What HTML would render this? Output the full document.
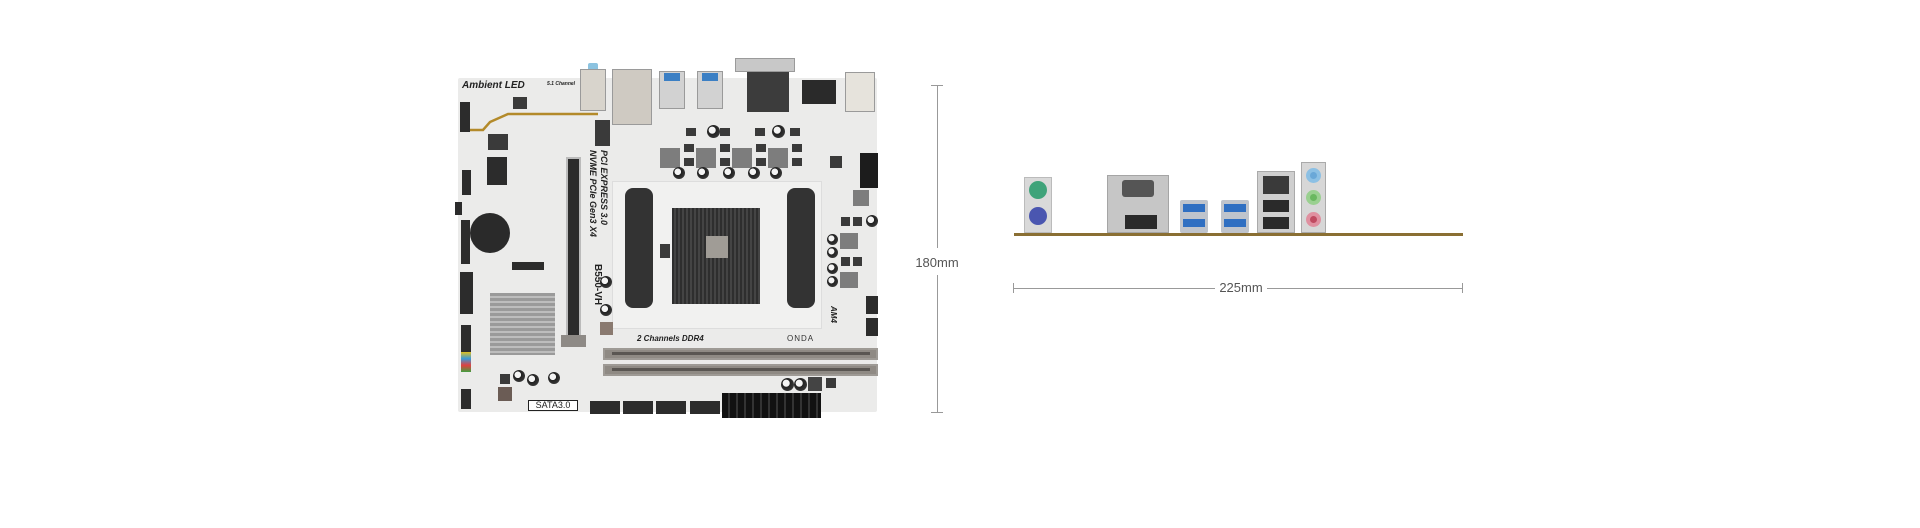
<!DOCTYPE html>
<html><head><meta charset="utf-8"><style>
*{margin:0;padding:0;box-sizing:border-box}
body{width:1920px;height:528px;background:#fff;position:relative;overflow:hidden;font-family:"Liberation Sans",sans-serif}
div{position:absolute}
.d{background:#2c2c2c}
.g{background:#7d7d7d}
.m{background:#c9c9c9;border:1px solid #9a9a9a}
.t{font-weight:bold;font-style:italic;color:#222;white-space:nowrap}
.cap{border-radius:50%;background:radial-gradient(circle at 40% 40%,#f4f4f4 30%,#222 34%,#444 100%)}
.chip{background:#3a3a3a}
</style></head><body>
<!-- board -->
<div style="left:458px;top:78px;width:419px;height:334px;background:#ebebea;border-radius:2px"></div>
<!-- gold trace -->
<svg style="position:absolute;left:458px;top:100px" width="140" height="40"><polyline points="2,30 25,30 32,22 50,14 140,14" stroke="#b38a2a" stroke-width="2.5" fill="none"/></svg>
<div class="t" style="left:462px;top:80px;font-size:10px">Ambient LED</div>
<div class="t" style="left:547px;top:81px;font-size:5px">5.1 Channel</div>
<!-- rear io -->
<div style="left:588px;top:63px;width:10px;height:10px;background:#8cc3e0;border-radius:2px"></div>
<div class="m" style="left:580px;top:69px;width:26px;height:42px;background:#d8d4cc"></div>
<div class="m" style="left:612px;top:69px;width:40px;height:56px;background:#cfcac2"></div>
<div class="m" style="left:659px;top:71px;width:26px;height:38px;background:#d2d2d2"></div>
<div style="left:664px;top:73px;width:16px;height:8px;background:#3b7fc4"></div>
<div class="m" style="left:697px;top:71px;width:26px;height:38px;background:#d2d2d2"></div>
<div style="left:702px;top:73px;width:16px;height:8px;background:#3b7fc4"></div>
<div class="m" style="left:735px;top:58px;width:60px;height:14px;background:#c8c8c8"></div>
<div class="chip" style="left:747px;top:72px;width:42px;height:40px;background:#3c3c3c"></div>
<div class="chip" style="left:802px;top:80px;width:34px;height:24px;background:#2a2a2a"></div>
<div class="m" style="left:845px;top:72px;width:30px;height:40px;background:#e6e3dc"></div>
<!-- left headers -->
<div class="d" style="left:460px;top:102px;width:10px;height:30px"></div>
<div class="d" style="left:462px;top:170px;width:9px;height:25px"></div>
<div class="d" style="left:455px;top:202px;width:7px;height:13px"></div>
<div class="d" style="left:461px;top:220px;width:9px;height:22px"></div>
<div class="d" style="left:461px;top:242px;width:9px;height:22px"></div>
<div class="d" style="left:460px;top:272px;width:13px;height:42px"></div>
<div class="d" style="left:461px;top:325px;width:10px;height:28px"></div>
<div style="left:461px;top:352px;width:10px;height:20px;background:linear-gradient(#e0c020,#3a9ad8,#e04040,#40a040)"></div>
<div class="d" style="left:461px;top:389px;width:10px;height:20px"></div>
<!-- M.2 slot, etc -->
<div class="d" style="left:487px;top:157px;width:20px;height:28px"></div>
<div style="left:470px;top:213px;width:40px;height:40px;border-radius:50%;background:#2a2a2a"></div>
<div class="d" style="left:512px;top:262px;width:32px;height:8px"></div>
<div class="chip" style="left:488px;top:134px;width:20px;height:16px"></div>
<div class="chip" style="left:513px;top:97px;width:14px;height:12px"></div>
<div class="chip" style="left:595px;top:120px;width:15px;height:26px"></div>
<!-- heatsink -->
<div style="left:490px;top:293px;width:65px;height:62px;background:repeating-linear-gradient(#9a9a9a 0 3px,#bdbdbd 3px 5px)"></div>
<!-- PCIe x16 -->
<div class="d" style="left:566px;top:157px;width:15px;height:190px;border:2px solid #bbb"></div>
<div class="g" style="left:561px;top:335px;width:25px;height:12px;background:#8e8a86"></div>
<!-- vertical texts -->
<div class="t" style="left:598px;top:150px;font-size:9px;transform-origin:0 0;transform:rotate(90deg)">NVME PCIe Gen3 X4</div>
<div class="t" style="left:609px;top:150px;font-size:9px;transform-origin:0 0;transform:rotate(90deg)">PCI EXPRESS 3.0</div>
<div style="left:603px;top:264px;font-size:10px;color:#222;font-weight:bold;transform-origin:0 0;transform:rotate(90deg);white-space:nowrap">B550-VH</div>
<div class="t" style="left:838px;top:306px;font-size:8px;transform-origin:0 0;transform:rotate(90deg)">AM4</div>
<!-- VRM -->
<div class="g" style="left:660px;top:148px;width:20px;height:20px"></div>
<div class="g" style="left:696px;top:148px;width:20px;height:20px"></div>
<div class="g" style="left:732px;top:148px;width:20px;height:20px"></div>
<div class="g" style="left:768px;top:148px;width:20px;height:20px"></div>
<div class="chip" style="left:684px;top:144px;width:10px;height:8px"></div><div class="chip" style="left:684px;top:158px;width:10px;height:8px"></div>
<div class="chip" style="left:720px;top:144px;width:10px;height:8px"></div><div class="chip" style="left:720px;top:158px;width:10px;height:8px"></div>
<div class="chip" style="left:756px;top:144px;width:10px;height:8px"></div><div class="chip" style="left:756px;top:158px;width:10px;height:8px"></div>
<div class="chip" style="left:792px;top:144px;width:10px;height:8px"></div><div class="chip" style="left:792px;top:158px;width:10px;height:8px"></div>
<div class="chip" style="left:686px;top:128px;width:10px;height:8px"></div><div class="chip" style="left:720px;top:128px;width:10px;height:8px"></div><div class="chip" style="left:755px;top:128px;width:10px;height:8px"></div><div class="chip" style="left:790px;top:128px;width:10px;height:8px"></div>
<div class="cap" style="left:707px;top:125px;width:13px;height:13px"></div>
<div class="cap" style="left:772px;top:125px;width:13px;height:13px"></div>
<div class="cap" style="left:673px;top:167px;width:12px;height:12px"></div>
<div class="cap" style="left:697px;top:167px;width:12px;height:12px"></div>
<div class="cap" style="left:723px;top:167px;width:12px;height:12px"></div>
<div class="cap" style="left:748px;top:167px;width:12px;height:12px"></div>
<div class="cap" style="left:770px;top:167px;width:12px;height:12px"></div>
<div class="chip" style="left:830px;top:156px;width:12px;height:12px"></div>
<!-- 8 pin -->
<div class="d" style="left:860px;top:153px;width:18px;height:35px;background:#1c1c1c"></div>
<div class="g" style="left:853px;top:190px;width:16px;height:16px"></div>
<!-- socket area -->
<div style="left:612px;top:181px;width:210px;height:148px;border:1px solid #ddd;background:#f1f1f0"></div>
<div style="left:625px;top:188px;width:28px;height:120px;background:#333;border-radius:8px"></div>
<div style="left:787px;top:188px;width:28px;height:120px;background:#333;border-radius:8px"></div>
<div style="left:672px;top:208px;width:88px;height:96px;background:repeating-linear-gradient(90deg,#2e2e2e 0 2px,#444 2px 4px)"></div>
<div style="left:706px;top:236px;width:22px;height:22px;background:#a09c96"></div>
<div class="chip" style="left:660px;top:244px;width:10px;height:14px"></div>
<!-- right side -->
<div class="g" style="left:840px;top:233px;width:18px;height:16px"></div>
<div class="g" style="left:840px;top:272px;width:18px;height:16px"></div>
<div class="chip" style="left:841px;top:217px;width:9px;height:9px"></div><div class="chip" style="left:853px;top:217px;width:9px;height:9px"></div>
<div class="chip" style="left:841px;top:257px;width:9px;height:9px"></div><div class="chip" style="left:853px;top:257px;width:9px;height:9px"></div>
<div class="cap" style="left:827px;top:234px;width:11px;height:11px"></div><div class="cap" style="left:827px;top:247px;width:11px;height:11px"></div>
<div class="cap" style="left:827px;top:263px;width:11px;height:11px"></div><div class="cap" style="left:827px;top:276px;width:11px;height:11px"></div>
<div class="cap" style="left:866px;top:215px;width:12px;height:12px"></div>
<div class="d" style="left:866px;top:296px;width:12px;height:18px"></div>
<div class="d" style="left:866px;top:318px;width:12px;height:18px"></div>
<!-- DDR4 text, ONDA -->
<div class="t" style="left:637px;top:334px;font-size:8px">2 Channels DDR4</div>
<div style="left:787px;top:334px;font-size:8px;color:#333;letter-spacing:1px">ONDA</div>
<!-- DIMM -->
<div style="left:603px;top:348px;width:275px;height:12px;background:#8f8a84;border:2px solid #9e9a95"></div>
<div style="left:603px;top:364px;width:275px;height:12px;background:#8f8a84;border:2px solid #9e9a95"></div>
<div style="left:612px;top:352px;width:258px;height:3px;background:#5a5652"></div>
<div style="left:612px;top:368px;width:258px;height:3px;background:#5a5652"></div>
<!-- lower parts -->
<div class="chip" style="left:500px;top:374px;width:10px;height:10px"></div>
<div style="left:498px;top:387px;width:14px;height:14px;background:#6b5c55"></div>
<div class="cap" style="left:513px;top:370px;width:12px;height:12px"></div><div class="cap" style="left:527px;top:374px;width:12px;height:12px"></div><div class="cap" style="left:548px;top:372px;width:12px;height:12px"></div>
<div class="cap" style="left:600px;top:276px;width:12px;height:12px"></div><div class="cap" style="left:600px;top:304px;width:12px;height:12px"></div>
<div style="left:600px;top:322px;width:13px;height:13px;background:#8a7a70"></div>
<div style="left:528px;top:400px;width:50px;height:11px;border:1px solid #222;background:#fff;font-size:9px;color:#222;text-align:center;line-height:9px">SATA3.0</div>
<div class="d" style="left:590px;top:401px;width:30px;height:13px"></div>
<div class="d" style="left:623px;top:401px;width:30px;height:13px"></div>
<div class="d" style="left:656px;top:401px;width:30px;height:13px"></div>
<div class="d" style="left:690px;top:401px;width:30px;height:13px"></div>
<div style="left:722px;top:393px;width:99px;height:25px;background:repeating-linear-gradient(90deg,#111 0 6px,#333 6px 8px)"></div>
<div class="cap" style="left:781px;top:378px;width:13px;height:13px"></div><div class="cap" style="left:794px;top:378px;width:13px;height:13px"></div>
<div class="chip" style="left:808px;top:377px;width:14px;height:14px;background:#444"></div>
<div class="chip" style="left:826px;top:378px;width:10px;height:10px"></div>
<!-- vertical dim -->
<div style="left:931px;top:85px;width:12px;height:1px;background:#999"></div>
<div style="left:931px;top:412px;width:12px;height:1px;background:#999"></div>
<div style="left:937px;top:85px;width:1px;height:163px;background:#999"></div>
<div style="left:937px;top:275px;width:1px;height:137px;background:#999"></div>
<div style="left:912px;top:255px;width:50px;font-size:13px;color:#555;text-align:center">180mm</div>
<!-- rear panel -->
<div style="left:1014px;top:233px;width:449px;height:3px;background:#8a6f33"></div>
<div style="left:1024px;top:177px;width:28px;height:56px;background:#d9d9d9;border:1px solid #bbb"></div>
<div style="left:1029px;top:181px;width:18px;height:18px;border-radius:50%;background:#3fa37a"></div>
<div style="left:1029px;top:207px;width:18px;height:18px;border-radius:50%;background:#4a56b0"></div>
<div style="left:1107px;top:175px;width:62px;height:58px;background:#c6c6c6;border:1px solid #a5a5a5"></div>
<div style="left:1122px;top:180px;width:32px;height:17px;background:#555;border-radius:3px"></div>
<div style="left:1125px;top:215px;width:32px;height:14px;background:#2a2a2a"></div>
<div style="left:1180px;top:200px;width:28px;height:33px;background:#bfc4cc;border-radius:2px"></div>
<div style="left:1183px;top:204px;width:22px;height:8px;background:#2f6fc2"></div>
<div style="left:1183px;top:219px;width:22px;height:8px;background:#2f6fc2"></div>
<div style="left:1221px;top:200px;width:28px;height:33px;background:#bfc4cc;border-radius:2px"></div>
<div style="left:1224px;top:204px;width:22px;height:8px;background:#2f6fc2"></div>
<div style="left:1224px;top:219px;width:22px;height:8px;background:#2f6fc2"></div>
<div style="left:1257px;top:171px;width:38px;height:62px;background:#cfcfcf;border:1px solid #aaa"></div>
<div style="left:1263px;top:176px;width:26px;height:18px;background:#3a3a3a"></div>
<div style="left:1263px;top:200px;width:26px;height:12px;background:#2a2a2a"></div>
<div style="left:1263px;top:217px;width:26px;height:12px;background:#2a2a2a"></div>
<div style="left:1301px;top:162px;width:25px;height:71px;background:#d7d7d7;border:1px solid #aaa"></div>
<div style="left:1306px;top:168px;width:15px;height:15px;border-radius:50%;background:#6aa8d8;border:4px solid #8cc0e4"></div>
<div style="left:1306px;top:190px;width:15px;height:15px;border-radius:50%;background:#6ab860;border:4px solid #9ad090"></div>
<div style="left:1306px;top:212px;width:15px;height:15px;border-radius:50%;background:#c04a60;border:4px solid #e090a0"></div>
<!-- horizontal dim -->
<div style="left:1013px;top:283px;width:1px;height:10px;background:#999"></div>
<div style="left:1462px;top:283px;width:1px;height:10px;background:#999"></div>
<div style="left:1013px;top:288px;width:202px;height:1px;background:#999"></div>
<div style="left:1267px;top:288px;width:195px;height:1px;background:#999"></div>
<div style="left:1211px;top:280px;width:60px;font-size:13px;color:#555;text-align:center">225mm</div>
</body></html>
